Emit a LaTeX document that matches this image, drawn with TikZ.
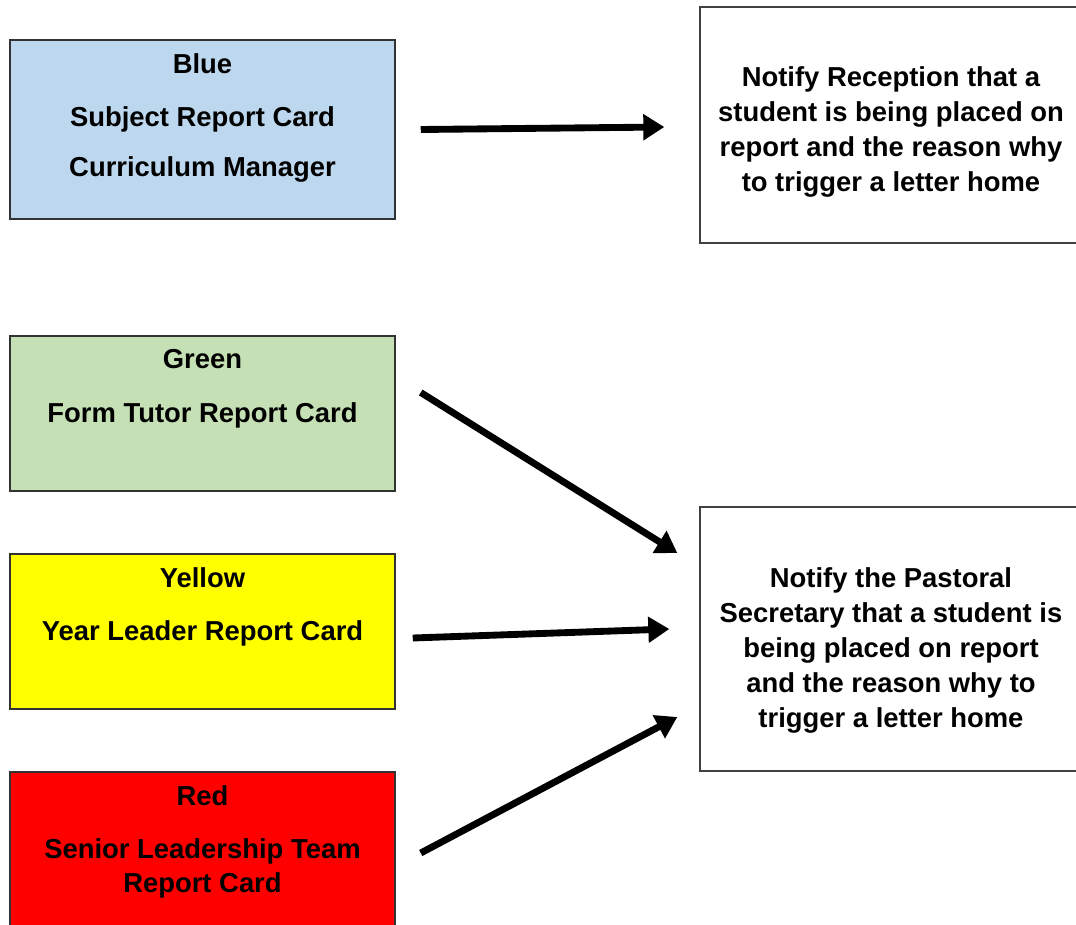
\documentclass[tikz,border=0pt]{standalone}
\usepackage{fontspec}
\setmainfont{Liberation Sans}
\usetikzlibrary{positioning,arrows.meta}
\definecolor{cardblue}{HTML}{BDD7EE}
\definecolor{cardgreen}{HTML}{C5E0B4}
\definecolor{cardyellow}{HTML}{FFFF00}
\definecolor{cardred}{HTML}{FF0000}
\tikzset{
	card/.style={draw=black!80,line width=0.9pt,minimum width=7.7cm,minimum height=3.1cm},
	note/.style={draw=black!75,line width=0.8pt,minimum width=7.64cm},
	words/.style={inner sep=0pt,align=center,font=\fontsize{15.6pt}{19.9pt}\selectfont\bfseries},
	flow/.style={line width=3.9pt,->}
}
\begin{document}
\begin{tikzpicture}[x=0.02cm,y=-0.02cm,>={Triangle[length=0.42cm,width=0.5cm]}]
	\useasboundingbox[fill=white] (0,0) rectangle (1076,924);
	\clip (0,0) rectangle (1076,924);
	\node[card,fill=cardblue,minimum height=3.58cm] at (202.5,129.5) (blue) {};
	\node[card,fill=cardgreen] at (202.5,413.5) (green) {};
	\node[card,fill=cardyellow] at (202.5,631.5) (yellow) {};
	\node[card,fill=cardred] at (202.5,849.5) (red) {};
	\node[note,minimum height=4.72cm] at (891,125) (recep) {};
	\node[note,minimum height=5.28cm] at (891,639) (pastoral) {};
	\node[words,below=0.28cm of blue.north] (bluetext) {Blue\\[10.5pt]Subject Report Card\\[8.5pt]Curriculum Manager};
	\node[words,below=0.28cm of green.north] (greentext) {Green\\[10.5pt]Form Tutor Report Card};
	\node[words,below=0.28cm of yellow.north] (yellowtext) {Yellow\\[10.5pt]Year Leader Report Card};
	\node[words,below=0.28cm of red.north] (redtext) {Red\\[10.5pt]Senior Leadership Team\\[-1pt]Report Card};
	\node[words,yshift=-0.14cm] at (recep) (receptext) {Notify Reception that a\\student is being placed on\\report and the reason why\\to trigger a letter home};
	\node[words,yshift=-0.23cm] at (pastoral) (pastoraltext) {Notify the Pastoral\\Secretary that a student is\\being placed on report\\and the reason why to\\trigger a letter home};
	\draw[flow] ([xshift=0.5cm]blue.east) -- ([xshift=-0.7cm,yshift=-0.04cm]recep.west);
	\draw[flow] ([xshift=0.5cm,yshift=0.42cm]green.east) -- ([xshift=-0.44cm,yshift=1.72cm]pastoral.west);
	\draw[flow] ([xshift=0.34cm,yshift=-0.13cm]yellow.east) -- ([xshift=-0.6cm,yshift=0.2cm]pastoral.west);
	\draw[flow] ([xshift=0.5cm,yshift=-0.07cm]red.east) -- ([xshift=-0.44cm,yshift=-1.56cm]pastoral.west);
\end{tikzpicture}
\end{document}
